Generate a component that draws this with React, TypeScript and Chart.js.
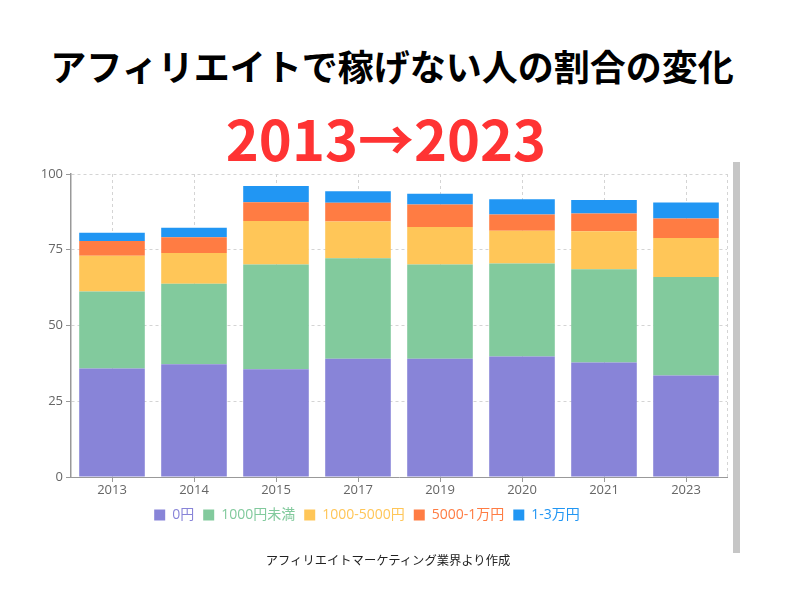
import React, { useEffect, useRef } from "react";
import { Chart, registerables } from "chart.js";

Chart.register(...registerables);

const categories = ["2013", "2014", "2015", "2017", "2019", "2020", "2021", "2023"];
const seriesNames = ["0円", "1000円未満", "1000-5000円", "5000-1万円", "1-3万円"];
const zeroYen = [35.8, 37.2, 35.6, 39.0, 39.0, 39.8, 37.8, 33.5];
const under1000 = [25.4, 26.6, 34.5, 33.2, 31.1, 30.7, 30.8, 32.5];
const from1000to5000 = [11.8, 10.1, 14.4, 12.1, 12.4, 10.8, 12.5, 12.9];
const from5000to10000 = [4.9, 5.2, 6.2, 6.2, 7.4, 5.3, 5.9, 6.4];
const from10000to30000 = [2.7, 3.2, 5.3, 3.8, 3.6, 5.1, 4.4, 5.3];
const yTicks = [0, 25, 50, 75, 100];

const colors = ["#8884d8", "#82ca9d", "#ffc658", "#ff7c43", "#2196f3"];
const seriesValues = [zeroYen, under1000, from1000to5000, from5000to10000, from10000to30000];

const FONT = "'Open Sans', 'Noto Sans CJK JP', sans-serif";

export default function App() {
  const ref = useRef<HTMLCanvasElement | null>(null);

  useEffect(() => {
    if (!ref.current) return;
    const chart = new Chart(ref.current, {
      type: "bar",
      data: {
        labels: categories,
        datasets: seriesNames.map((name, i) => ({
          label: name,
          data: seriesValues[i],
          backgroundColor: colors[i],
          borderWidth: 0,
          categoryPercentage: 1,
          barPercentage: 0.8,
        })),
      },
      options: {
        animation: false,
        responsive: false,
        maintainAspectRatio: false,
        layout: { padding: { left: 7, right: 73, top: 14, bottom: 0 } },
        plugins: {
          tooltip: { enabled: false },
          legend: {
            position: "bottom",
            labels: {
              boxWidth: 11,
              boxHeight: 11,
              padding: 9,
              font: { family: FONT, size: 14 },
              generateLabels: (c: any) =>
                c.data.datasets.map((ds: any, i: number) => ({
                  text: ds.label,
                  fillStyle: colors[i],
                  strokeStyle: colors[i],
                  lineWidth: 0,
                  fontColor: colors[i],
                  hidden: false,
                  datasetIndex: i,
                })),
            },
          },
        },
        scales: {
          x: {
            stacked: true,
            offset: true,
            afterFit: (s: any) => {
              s.height = 22;
            },
            grid: {
              offset: false,
              color: "#d4d4d4",
              tickBorderDash: [],
              tickColor: "#999",
              tickLength: 5,
              drawTicks: true,
            } as any,
            border: { color: "#999", width: 1, dash: [3, 3] },
            ticks: { color: "#666", font: { family: FONT, size: 13 }, padding: 0 },
          },
          y: {
            stacked: true,
            min: 0,
            max: 100,
            afterFit: (s: any) => {
              s.width = 64;
            },
            afterBuildTicks: (s: any) => {
              s.ticks = yTicks.map((v) => ({ value: v }));
            },
            grid: {
              color: (ctx: any) => (ctx.tick && ctx.tick.value === 0 ? "rgba(0,0,0,0)" : "#d4d4d4"),
              tickColor: "#999",
              tickLength: 5,
              tickBorderDash: [],
            } as any,
            border: { color: "#999", width: 1.5, dash: [3, 3] },
            ticks: { color: "#666", font: { family: FONT, size: 13 }, padding: 3 },
          },
        },
      } as any,
      plugins: [
        {
          id: "rightDash",
          afterDraw: (c: any) => {
            const { ctx, chartArea } = c;
            ctx.save();
            ctx.strokeStyle = "#d4d4d4";
            ctx.lineWidth = 1;
            ctx.setLineDash([3, 3]);
            ctx.beginPath();
            ctx.moveTo(Math.round(chartArea.right) + 0.5, chartArea.top);
            ctx.lineTo(Math.round(chartArea.right) + 0.5, chartArea.bottom);
            ctx.stroke();
            ctx.restore();
          },
        },
      ],
    });
    return () => chart.destroy();
  }, []);

  return (
    <div style={{ position: "absolute", left: 0, top: 0, width: 800, height: 600, background: "#fff" }}>
      <div
        style={{
          position: "absolute",
          left: 0,
          top: 40,
          width: 784,
          textAlign: "center",
          fontFamily: "'Noto Sans CJK JP', sans-serif",
          fontWeight: 700,
          fontSize: 36,
          lineHeight: "50px",
          color: "#000",
        }}
      >
        アフィリエイトで稼げない人の割合の変化
      </div>
      <div
        style={{
          position: "absolute",
          left: 0,
          top: 102,
          width: 772,
          textAlign: "center",
          fontFamily: "'Noto Sans CJK JP', sans-serif",
          fontWeight: 700,
          fontSize: 56,
          lineHeight: "70px",
          color: "#ff3333",
        }}
      >
        2013→2023
      </div>
      <div style={{ position: "absolute", left: 0, top: 160, width: 800, height: 372 }}>
        <canvas ref={ref} width={800} height={372} style={{ display: "block" }} />
      </div>
      <div
        style={{
          position: "absolute",
          left: 733,
          top: 162,
          width: 7,
          height: 391,
          background: "#c6c6c6",
        }}
      />
      <div
        style={{
          position: "absolute",
          left: 0,
          top: 551,
          width: 776,
          textAlign: "center",
          fontFamily: "'Noto Sans CJK JP', sans-serif",
          fontSize: 12.3,
          lineHeight: "18px",
          color: "#222",
        }}
      >
        アフィリエイトマーケティング業界より作成
      </div>
    </div>
  );
}
